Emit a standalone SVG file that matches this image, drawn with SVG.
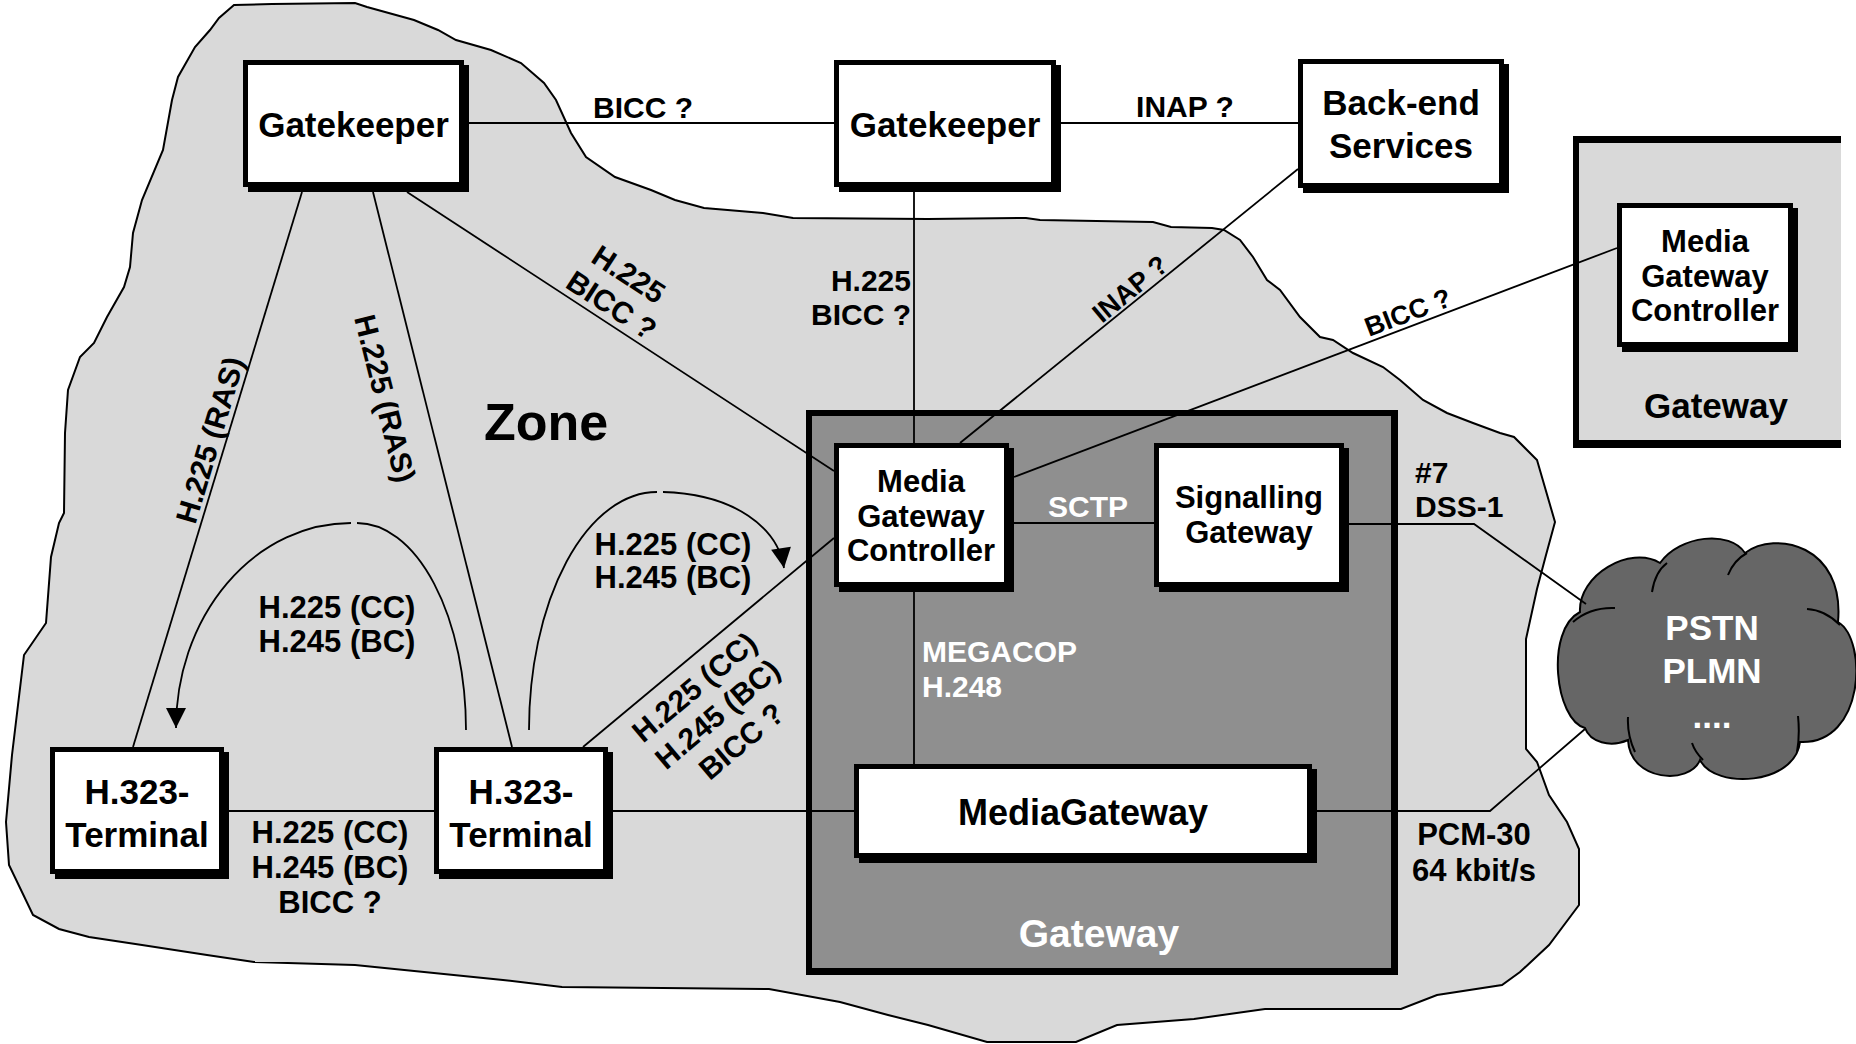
<svg xmlns="http://www.w3.org/2000/svg" width="1856" height="1044" viewBox="0 0 1856 1044">
<defs>
<style>
.t{font-family:"Liberation Sans",Arial,sans-serif;font-weight:bold;fill:#000}
.w{fill:#fff}
.n{font-size:35px;text-anchor:middle}
.s{font-size:31px;text-anchor:middle}
.l{font-size:30px}
.m{text-anchor:middle}
.e{text-anchor:end}
.c{fill:none;stroke:#000;stroke-width:1.8}
.sh{fill:#000}
.bx{fill:#fff;stroke:#000;stroke-width:5}
</style>
<marker id="ah" viewBox="0 0 20 20" refX="20" refY="10" markerWidth="21" markerHeight="20" markerUnits="userSpaceOnUse" orient="auto">
<path d="M0,0 L20,10 L0,20 z" fill="#000"/>
</marker>
</defs>
<rect width="1856" height="1044" fill="#fff"/>

<g id="zone">
<path d="M234,5 L272,4 L355,3 L367,7 L414,20 L438,30 L456,40 L491,50 L521,63 L544,83 L556,100 L571,133 L586,157 L615,177 L651,190 L675,200 L704,208 L763,213 L793,218 L928,219 L1026,218 L1040,220 L1153,222 L1171,227 L1212,228 L1224,230 L1240,240 L1253,257 L1267,280 L1280,290 L1300,317 L1320,337 L1333,340 L1353,353 L1383,367 L1400,380 L1423,400 L1447,413 L1473,423 L1500,433 L1514,437 L1537,460 L1555,522 L1546,555 L1537,589 L1526,639 L1526,749 L1537,762 L1549,795 L1567,822 L1579,849 L1579,905 L1549,945 L1520,972 L1502,985 L1437,995 L1401,1009 L1265,1009 L1194,1019 L1117,1025 L1076,1042 L987,1042 L928,1025 L888,1015 L840,1002 L769,989 L562,987 L503,980 L355,965 L254,962 L207,955 L142,945 L89,937 L59,929 L33,915 L9,865 L6,822 L12,755 L24,655 L46,623 L51,557 L59,523 L64,513 L65,433 L68,390 L80,357 L94,343 L107,317 L124,287 L130,267 L133,233 L142,200 L163,150 L172,100 L178,77 L195,47 L210,30 L219,18 Z" fill="#d9d9d9" stroke="#000" stroke-width="2"/>
<text class="t" x="484" y="440" font-size="52">Zone</text>
</g>

<g id="gateway-main">
<rect x="806" y="410" width="592" height="565" fill="#000"/>
<rect x="812" y="416" width="579" height="552" fill="#8f8f8f"/>
<text class="t w m" x="1099" y="947" font-size="39">Gateway</text>
</g>

<g id="gateway-right">
<rect x="1573" y="136" width="268" height="312" fill="#000"/>
<rect x="1579" y="143" width="262" height="297" fill="#d9d9d9"/>
<text class="t n" x="1716" y="418">Gateway</text>
</g>

<g id="pstn">
<path d="M1585,728 C1555,720 1545,630 1580,612 C1578,575 1630,545 1660,563 C1680,535 1730,530 1745,553 C1775,530 1845,545 1838,622 C1868,640 1865,745 1800,742 C1795,785 1715,790 1700,760 C1690,785 1630,782 1628,740 C1610,748 1590,742 1585,728 Z" fill="#666" stroke="#000" stroke-width="2"/>
<path d="M1573,622 Q1590,607 1615,608 M1652,592 Q1655,572 1667,563 M1728,575 Q1734,560 1747,553 M1807,609 Q1825,610 1840,625 M1628,717 Q1627,735 1635,752 M1692,743 Q1695,752 1703,760 M1798,716 Q1800,735 1797,752" fill="none" stroke="#000" stroke-width="2"/>
<text class="t w n" x="1712" y="640">PSTN</text>
<text class="t w n" x="1712" y="683">PLMN</text>
<text class="t w n" x="1712" y="728">....</text>
</g>

<g id="connectors">
<line class="c" x1="469" y1="123" x2="834" y2="123"/>
<line class="c" x1="1061" y1="123" x2="1298" y2="123"/>
<line class="c" x1="914" y1="192" x2="914" y2="443"/>
<line class="c" x1="1298" y1="169" x2="960" y2="443"/>
<line class="c" x1="1617" y1="248" x2="1014" y2="477"/>
<line class="c" x1="407" y1="192" x2="834" y2="471"/>
<line class="c" x1="302" y1="192" x2="133" y2="747"/>
<line class="c" x1="373" y1="192" x2="512" y2="747"/>
<line class="c" x1="583" y1="747" x2="834" y2="538"/>
<line class="c" x1="229" y1="811" x2="434" y2="811"/>
<line class="c" x1="613" y1="811" x2="854" y2="811"/>
<line class="c" x1="914" y1="592" x2="914" y2="764"/>
<line class="c" x1="1014" y1="523" x2="1154" y2="523"/>
<polyline class="c" points="1349,524 1474,524 1586,604"/>
<polyline class="c" points="1317,811 1490,811 1585,729"/>
<path class="c" d="M466,730 A109,207 0 0 0 357,523"/>
<path class="c" d="M351,523 A175,205 0 0 0 176,728" marker-end="url(#ah)"/>
<path class="c" d="M529,730 A128,238 0 0 1 657,492"/>
<path class="c" d="M663,492 C735,494 778,528 784,568" marker-end="url(#ah)"/>
</g>

<g id="gatekeeper-1">
<rect class="sh" x="248" y="65" width="221" height="127"/>
<rect class="bx" x="245.5" y="62.5" width="216" height="122"/>
<text class="t n" x="353.5" y="137">Gatekeeper</text>
</g>
<g id="gatekeeper-2">
<rect class="sh" x="839" y="65" width="222" height="127"/>
<rect class="bx" x="836.5" y="62.5" width="217" height="122"/>
<text class="t n" x="945" y="137">Gatekeeper</text>
</g>
<g id="back-end-services">
<rect class="sh" x="1303" y="64" width="206" height="129"/>
<rect class="bx" x="1300.5" y="61.5" width="201" height="124"/>
<text class="t n" x="1401" y="115">Back-end</text>
<text class="t n" x="1401" y="158">Services</text>
</g>
<g id="mgc-right">
<rect class="sh" x="1622" y="208" width="176" height="144"/>
<rect class="bx" x="1619.5" y="205.5" width="171" height="139"/>
<text class="t s" x="1705" y="252">Media</text>
<text class="t s" x="1705" y="286.5">Gateway</text>
<text class="t s" x="1705" y="321">Controller</text>
</g>
<g id="mgc">
<rect class="sh" x="839" y="448" width="175" height="144"/>
<rect class="bx" x="836.5" y="445.5" width="170" height="139"/>
<text class="t s" x="921" y="492">Media</text>
<text class="t s" x="921" y="526.5">Gateway</text>
<text class="t s" x="921" y="561">Controller</text>
</g>
<g id="signalling-gateway">
<rect class="sh" x="1159" y="448" width="190" height="144"/>
<rect class="bx" x="1156.5" y="445.5" width="185" height="139"/>
<text class="t s" x="1249" y="508">Signalling</text>
<text class="t s" x="1249" y="542.5">Gateway</text>
</g>
<g id="media-gateway">
<rect class="sh" x="859" y="769" width="458" height="94"/>
<rect class="bx" x="856.5" y="766.5" width="453" height="89"/>
<text class="t m" x="1083" y="825" font-size="36">MediaGateway</text>
</g>
<g id="terminal-left">
<rect class="sh" x="55" y="752" width="174" height="127"/>
<rect class="bx" x="52.5" y="749.5" width="169" height="122"/>
<text class="t n" x="137" y="804">H.323-</text>
<text class="t n" x="137" y="847">Terminal</text>
</g>
<g id="terminal-right">
<rect class="sh" x="439" y="752" width="174" height="127"/>
<rect class="bx" x="436.5" y="749.5" width="169" height="122"/>
<text class="t n" x="521" y="804">H.323-</text>
<text class="t n" x="521" y="847">Terminal</text>
</g>

<g id="labels">
<text class="t l m" x="643" y="118">BICC ?</text>
<text class="t l m" x="1185" y="117">INAP ?</text>
<text class="t l e" x="911" y="291">H.225</text>
<text class="t l e" x="911" y="325">BICC ?</text>
<text class="t l m" x="623" y="283" transform="rotate(33 623 283)">H.225</text>
<text class="t l m" x="606" y="314" transform="rotate(33 606 314)">BICC ?</text>
<text class="t l m" x="220" y="443" transform="rotate(-73.3 220 443)">H.225 (RAS)</text>
<text class="t l m" x="375" y="401" transform="rotate(75.9 375 401)">H.225 (RAS)</text>
<text class="t s" x="337" y="618">H.225 (CC)</text>
<text class="t s" x="337" y="652">H.245 (BC)</text>
<text class="t s" x="673" y="555">H.225 (CC)</text>
<text class="t s" x="673" y="588">H.245 (BC)</text>
<text class="t l m" x="701" y="695" transform="rotate(-40 701 695)">H.225 (CC)</text>
<text class="t l m" x="724" y="722" transform="rotate(-40 724 722)">H.245 (BC)</text>
<text class="t l m" x="748" y="749" transform="rotate(-40 748 749)">BICC ?</text>
<text class="t s" x="330" y="843">H.225 (CC)</text>
<text class="t s" x="330" y="878">H.245 (BC)</text>
<text class="t s" x="330" y="913">BICC ?</text>
<text class="t m w" x="1088" y="517" font-size="30">SCTP</text>
<text class="t w" x="922" y="662" font-size="30">MEGACOP</text>
<text class="t w" x="922" y="697" font-size="30">H.248</text>
<text class="t l" x="1415" y="483">#7</text>
<text class="t l" x="1415" y="517">DSS-1</text>
<text class="t s" x="1474" y="845">PCM-30</text>
<text class="t s" x="1474" y="881">64 kbit/s</text>
<text class="t m" x="1136" y="296" font-size="27" transform="rotate(-39.6 1136 296)">INAP ?</text>
<text class="t m" x="1411" y="321" font-size="27" transform="rotate(-20.8 1411 321)">BICC ?</text>
</g>
</svg>
